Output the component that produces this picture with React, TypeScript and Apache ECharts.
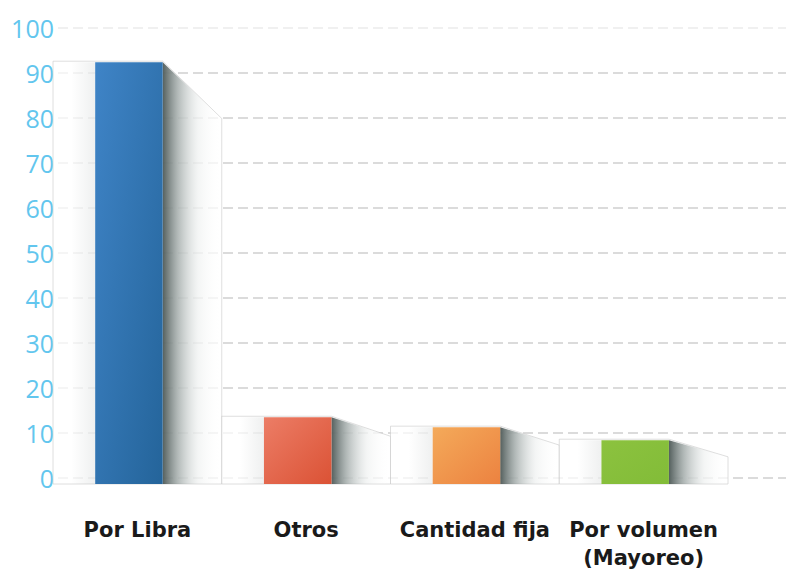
import React, { useEffect, useRef } from "react";
import * as echarts from "echarts";

const categories = ["Por Libra", "Otros", "Cantidad fija", "Por volumen\n(Mayoreo)"];
const values = [92.4, 13.5, 11.3, 8.4];
const yTicks = [0, 10, 20, 30, 40, 50, 60, 70, 80, 90, 100];

const barColors = [
  ["#3f84c7", "#24649a"],
  ["#ec7d66", "#db5235"],
  ["#f4aa5a", "#ec8240"],
  ["#8cc23f", "#82bc38"],
];

export default function App() {
  const ref = useRef<HTMLDivElement>(null);
  useEffect(() => {
    document.body.style.margin = "0";
    if (!ref.current) return;
    const chart = echarts.init(ref.current, null, { renderer: "svg" });
    const gridColors = yTicks.map((t) => (t === 100 ? "#ececec" : "#d0d0d0"));
    const option: any = {
      animation: false,
      backgroundColor: "#ffffff",
      grid: [
        { left: 58, right: 0, top: 28, bottom: 91, outerBoundsMode: "none", containLabel: false },
        { left: 53, right: 58, top: 28, bottom: 91, outerBoundsMode: "none", containLabel: false },
      ],
      xAxis: [
        { type: "value", gridIndex: 0, min: 0, max: 1, show: false },
        {
          type: "category",
          gridIndex: 1,
          data: categories,
          axisLine: { show: false },
          axisTick: { show: false },
          axisLabel: {
            margin: 38,
            color: "#1a1a1a",
            fontFamily: "DejaVu Sans",
            fontWeight: "bold",
            fontSize: 21,
            lineHeight: 28,
            interval: 0,
          },
        },
      ],
      yAxis: [
        {
          type: "value",
          gridIndex: 0,
          min: 0,
          max: 100,
          interval: 10,
          axisLine: { show: false },
          axisTick: { show: false },
          axisLabel: {
            margin: 4,
            color: "#62c6ee",
            fontFamily: "Open Sans",
            fontWeight: 400,
            fontSize: 25,
          },
          splitLine: {
            show: true,
            lineStyle: { color: gridColors, width: 1.6, type: [10, 5] },
          },
        },
        {
          type: "value",
          gridIndex: 1,
          min: 0,
          max: 100,
          show: false,
          splitLine: { show: false },
        },
      ],
      series: [
        { type: "line", xAxisIndex: 0, yAxisIndex: 0, data: [] },
        {
          type: "custom",
          xAxisIndex: 1,
          yAxisIndex: 1,
          clip: false,
          data: values.map((v, i) => [i, v]),
          renderItem: (params: any, api: any) => {
            const idx = api.value(0);
            const val = api.value(1);
            const top = api.coord([idx, val]);
            const zero = api.coord([idx, 0]);
            const band = api.size([1, 0])[0];
            const cx = top[0];
            const yTop = top[1];
            const base = zero[1] + 6;
            const bandL = cx - band / 2;
            const bandR = cx + band / 2;
            const barW = band * 0.4;
            const barL = bandL + band * 0.25;
            const barR = barL + barW;
            const h = base - yTop;
            const drop = 12 + 0.105 * h;
            const cols = barColors[idx % barColors.length];
            return {
              type: "group",
              children: [
                {
                  type: "polygon",
                  shape: {
                    points: [
                      [bandL, yTop - 1],
                      [barR, yTop - 1],
                      [bandR, yTop + drop],
                      [bandR, base],
                      [bandL, base],
                    ],
                  },
                  style: {
                    fill: "rgba(255,255,255,0.72)",
                    stroke: "rgba(200,200,200,0.6)",
                    lineWidth: 1,
                  },
                },
                {
                  type: "rect",
                  shape: { x: barL - 24, y: yTop, width: 24, height: h },
                  style: {
                    fill: new echarts.graphic.LinearGradient(0, 0, 1, 0, [
                      { offset: 0, color: "rgba(120,130,130,0)" },
                      { offset: 1, color: "rgba(120,130,130,0.12)" },
                    ]),
                  },
                },
                {
                  type: "polygon",
                  shape: {
                    points: [
                      [barR, yTop],
                      [bandR, yTop + drop],
                      [bandR, base],
                      [barR, base],
                    ],
                  },
                  style: {
                    fill: new echarts.graphic.LinearGradient(0, 0, 1, 0, [
                      { offset: 0, color: "rgba(70,82,80,0.92)" },
                      { offset: 0.25, color: "rgba(125,137,135,0.6)" },
                      { offset: 0.6, color: "rgba(210,216,215,0.25)" },
                      { offset: 1, color: "rgba(255,255,255,0)" },
                    ]),
                  },
                },
                {
                  type: "rect",
                  shape: { x: barL, y: yTop, width: barW, height: h },
                  style: {
                    fill: new echarts.graphic.LinearGradient(0, 0, 1, 1, [
                      { offset: 0, color: cols[0] },
                      { offset: 1, color: cols[1] },
                    ]),
                  },
                },
              ],
            };
          },
        },
      ],
    };
    chart.setOption(option);
    return () => chart.dispose();
  }, []);
  return <div ref={ref} style={{ width: 786, height: 569 }} />;
}
